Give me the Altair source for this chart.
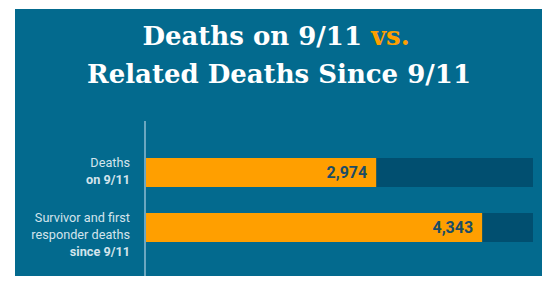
import altair as alt
import pandas as pd

# ---- data ----
categories = ["Deaths on 9/11", "Survivor and first responder deaths since 9/11"]
values = [2974, 4343]
scale_max = 5000

label_cat = [categories[0], categories[0], categories[1], categories[1], categories[1]]
label_text = ["Deaths", "on 9/11", "Survivor and first", "responder deaths", "since 9/11"]
label_bold = [False, True, False, False, True]
label_off = [5, 22, 5, 22, 39.5]

title_line1 = "Deaths on 9/11"
title_vs = "vs."
title_line2 = "Related Deaths Since 9/11"

BG = "#036a8e"
DARK = "#014f70"
ORANGE = "#ff9f00"
VALTXT = "#1b4d66"
LABEL = "#d3e4ec"

bars = pd.DataFrame({"cat": categories, "value": values, "full": [scale_max] * len(categories)})
labels = pd.DataFrame({"cat": label_cat, "text": label_text, "bold": label_bold, "off": label_off})
one = pd.DataFrame({"a": [0]})

yenc = alt.Y("cat:N", sort=categories, axis=None,
             scale=alt.Scale(paddingInner=0.47, paddingOuter=0.235))
xscale = alt.Scale(domain=[0, scale_max])

panel = alt.Chart(one).mark_rect(color=BG).encode(
    x=alt.value(-131), x2=alt.value(396), y=alt.value(-136), y2=alt.value(131)
)

axis_line = alt.Chart(one).mark_rule(color="#8fbdd1", strokeWidth=1.5).encode(
    x=alt.value(-1), y=alt.value(-24), y2=alt.value(131)
)

back = alt.Chart(bars).mark_bar(color=DARK).encode(
    x=alt.X("full:Q", scale=xscale, axis=None), y=yenc
)
front = alt.Chart(bars).mark_bar(color=ORANGE).encode(
    x=alt.X("value:Q", scale=xscale, axis=None), y=yenc
)
vals = alt.Chart(bars).mark_text(
    align="right", baseline="middle", dx=-9, font="Roboto", fontWeight="bold",
    fontSize=16, color=VALTXT
).encode(
    x=alt.X("value:Q", scale=xscale, axis=None), y=yenc,
    text=alt.Text("value:Q", format=",")
)

lab_norm = alt.Chart(labels).transform_filter("!datum.bold").mark_text(
    align="right", baseline="middle", font="Roboto", fontSize=12.7, color=LABEL
).encode(x=alt.value(-16), y=yenc, yOffset=alt.YOffset("off:Q", scale=None), text="text:N")
lab_bold = alt.Chart(labels).transform_filter("datum.bold").mark_text(
    align="right", baseline="middle", font="Roboto", fontSize=12.7, fontWeight="bold", color=LABEL
).encode(x=alt.value(-16), y=yenc, yOffset=alt.YOffset("off:Q", scale=None), text="text:N")

t1 = alt.Chart(one).mark_text(
    align="right", baseline="alphabetic", font="DejaVu Serif", fontWeight="bold",
    fontSize=26, color="white", text=title_line1
).encode(x=alt.value(216), y=alt.value(-100))
t1vs = alt.Chart(one).mark_text(
    align="left", baseline="alphabetic", font="DejaVu Serif", fontWeight="bold",
    fontSize=26, color=ORANGE, text=title_vs
).encode(x=alt.value(225), y=alt.value(-100))
t2 = alt.Chart(one).mark_text(
    align="center", baseline="alphabetic", font="DejaVu Serif", fontWeight="bold",
    fontSize=26, color="white", text=title_line2
).encode(x=alt.value(133), y=alt.value(-62))

chart = alt.layer(panel, axis_line, back, front, vals, lab_norm, lab_bold, t1, t1vs, t2).properties(
    width=387, height=110,
    padding={"left": 138, "top": 137, "right": 9, "bottom": 21},
    autosize=alt.AutoSizeParams(type="none"),
    background="white",
).configure_view(stroke=None)

chart.save("out.html", embed_options={"renderer": "svg", "actions": False})
